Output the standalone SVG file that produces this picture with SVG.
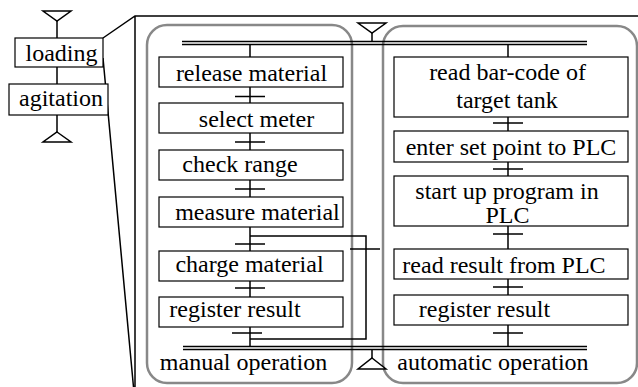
<svg xmlns="http://www.w3.org/2000/svg" width="638" height="387" viewBox="0 0 638 387">
  <!-- expansion frame of the loading step -->
  <g id="expansion-frame" stroke="#000" stroke-width="1.5" fill="none">
    <path d="M103,38 L135,16 L638,16 M135,16 L135,387 M103,58 L133.5,387"/>
  </g>

  <!-- step containers -->
  <g id="containers" fill="none" stroke="#888" stroke-width="2.5">
    <rect id="manual-operation-frame" x="147" y="25" width="205" height="358" rx="20"/>
    <rect id="automatic-operation-frame" x="383" y="26" width="254" height="357" rx="20"/>
  </g>

  <!-- connectors -->
  <g id="connectors" stroke="#000" stroke-width="1.5" fill="none">
    <!-- top-level sequence -->
    <path d="M57,21 L57,38 M57,67 L57,84 M57,115 L57,132"/>
    <polygon fill="#fff" points="43,11 71,11 57,21"/>
    <polygon fill="#fff" points="57,132 71,142 43,142"/>

    <!-- parallel branch bars -->
    <path stroke-width="1.6" d="M182,41.5 L587,41.5 M182,44.5 L587,44.5"/>
    <path stroke-width="1.6" d="M183,346.5 L587,346.5 M183,349.5 L587,349.5"/>
    <path d="M372,33 L372,41.5 M372,349.5 L372,358"/>
    <polygon fill="#fff" points="358,23 386,23 372,33"/>
    <polygon fill="#fff" points="372,358 386,369 358,369"/>

    <!-- manual column -->
    <path d="M250,44.5 L250,57 M250,87 L250,103 M250,133 L250,150 M250,180 L250,197 M250,227 L250,251 M250,281 L250,297 M250,327 L250,346.5"/>
    <path d="M235,96.5 L265,96.5 M235,142 L265,142 M235,189 L265,189 M235,244 L265,244 M235,288 L265,288 M232,333 L262,333"/>
    <!-- bypass -->
    <path d="M250,236 L366,236 L366,339 L250,339"/>
    <path d="M350,249 L380,249"/>

    <!-- automatic column -->
    <path d="M508,44.5 L508,57 M508,117 L508,131 M508,162 L508,176 M508,226 L508,249 M508,279 L508,295 M508,325 L508,346.5"/>
    <path d="M493,123 L523,123 M493,169 L523,169 M493,234 L523,234 M493,287 L523,287 M493,333 L523,333"/>
  </g>

  <!-- steps: boxes share stroke, labels share font -->
  <g id="nodes" font-family="Liberation Serif" font-size="24" text-anchor="middle">
    <g id="manual-operation">
      <text x="243.5" y="370">manual operation</text>
    </g>
    <g id="automatic-operation">
      <text x="493" y="370">automatic operation</text>
    </g>

    <g id="loading">
      <rect x="15" y="38" width="88" height="29" fill="#fff" stroke="#000" stroke-width="1.2"/>
      <text x="61.5" y="61">loading</text>
    </g>
    <g id="agitation">
      <rect x="9" y="84" width="99" height="31" fill="#fff" stroke="#000" stroke-width="1.2"/>
      <text x="61" y="106">agitation</text>
    </g>

    <g id="release-material">
      <rect x="159" y="57" width="184" height="30" fill="#fff" stroke="#000" stroke-width="1.2"/>
      <text x="251.5" y="81">release material</text>
    </g>
    <g id="select-meter">
      <rect x="159" y="103" width="184" height="30" fill="#fff" stroke="#000" stroke-width="1.2"/>
      <text x="256.5" y="127">select meter</text>
    </g>
    <g id="check-range">
      <rect x="159" y="150" width="184" height="30" fill="#fff" stroke="#000" stroke-width="1.2"/>
      <text x="240" y="172">check range</text>
    </g>
    <g id="measure-material">
      <rect x="159" y="197" width="184" height="30" fill="#fff" stroke="#000" stroke-width="1.2"/>
      <text x="257.5" y="220">measure material</text>
    </g>
    <g id="charge-material">
      <rect x="159" y="251" width="184" height="30" fill="#fff" stroke="#000" stroke-width="1.2"/>
      <text x="249.5" y="272">charge material</text>
    </g>
    <g id="register-result-manual">
      <rect x="159" y="297" width="184" height="30" fill="#fff" stroke="#000" stroke-width="1.2"/>
      <text x="235" y="317">register result</text>
    </g>

    <g id="read-bar-code">
      <rect x="394" y="57" width="234" height="60" fill="#fff" stroke="#000" stroke-width="1.2"/>
      <text x="507.5" y="80">read bar-code of</text>
      <text x="507" y="108">target tank</text>
    </g>
    <g id="enter-set-point">
      <rect x="394" y="131" width="234" height="31" fill="#fff" stroke="#000" stroke-width="1.2"/>
      <text x="511" y="155">enter set point to PLC</text>
    </g>
    <g id="start-up-program">
      <rect x="394" y="176" width="234" height="50" fill="#fff" stroke="#000" stroke-width="1.2"/>
      <text x="507" y="199">start up program in</text>
      <text x="507.5" y="223">PLC</text>
    </g>
    <g id="read-result">
      <rect x="394" y="249" width="234" height="30" fill="#fff" stroke="#000" stroke-width="1.2"/>
      <text x="504" y="273">read result from PLC</text>
    </g>
    <g id="register-result-auto">
      <rect x="394" y="295" width="234" height="30" fill="#fff" stroke="#000" stroke-width="1.2"/>
      <text x="484.5" y="317">register result</text>
    </g>
  </g>
</svg>
